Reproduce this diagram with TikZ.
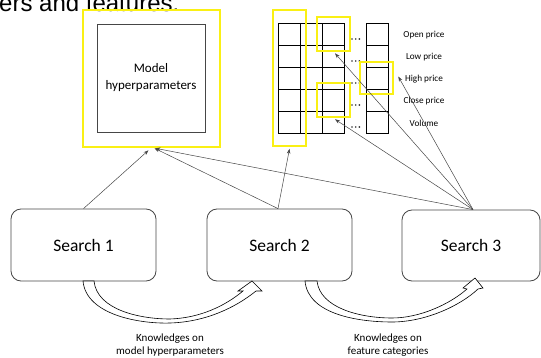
\documentclass[tikz,border=0pt]{standalone}
\usepackage{fontspec}
\setmainfont{Carlito}
\newfontfamily\slidefont{Liberation Sans}
\usetikzlibrary{arrows.meta}
\definecolor{hlyellow}{RGB}{250,240,20}
\definecolor{lineg}{RGB}{70,70,70}
\begin{document}
\begin{tikzpicture}[x=1pt,y=-1pt,
  hlbox/.style={draw=hlyellow,line width=2.6pt,inner sep=0pt},
  cellbox/.style={draw=black,line width=0.8pt},
  searchbox/.style={draw=lineg,line width=0.8pt,rounded corners=10pt,minimum width=145pt,minimum height=72pt,inner sep=0pt,font=\fontsize{17.5}{20}\selectfont},
  featlabel/.style={font=\fontsize{9.2}{11}\selectfont,inner sep=0pt},
  knowlabel/.style={font=\fontsize{11}{13}\selectfont,align=center,inner sep=0pt},
  conn/.style={draw=lineg,line width=0.5pt,-{Stealth[length=5pt,width=3.6pt]}},
  blockarrow/.style={draw=black,line width=0.6pt,fill=white,line join=miter},
  dotmark/.style={fill=black!80}
]
\useasboundingbox (0,0) rectangle (541,358);
\clip (0,0) rectangle (541,358);

% clipped slide text
\node[anchor=base west,inner sep=0pt,font=\slidefont\fontsize{24}{26}\selectfont] (slidetxt) at (-1,12) {ers and features.};

% model hyperparameters
\node[hlbox,minimum width=137pt,minimum height=137pt] (mhy) at (151.5,78.5) {};
\node[draw=lineg,line width=0.8pt,minimum width=108pt,minimum height=108pt,align=center,font=\fontsize{13}{17}\selectfont] (mh) at (151,78) {Model\\hyperparameters};

% grid of features
\foreach \c/\x in {0/278,1/300,2/322,3/366}{
  \foreach \r/\y in {0/23,1/45,2/67,3/89,4/111}{
    \draw[cellbox] (\x,\y) rectangle ++(22,22);
  }
}
\foreach \y in {39,61,83,105,127}{
  \foreach \dx in {352,355.7,359.4}{
    \fill[dotmark] (\dx,\y) circle (0.95pt);
  }
}
\node[featlabel] (l1) at (424,35) {Open price};
\node[featlabel] (l2) at (424,57) {Low price};
\node[featlabel] (l3) at (424,79) {High price};
\node[featlabel] (l4) at (424,101) {Close price};
\node[featlabel] (l5) at (424,123) {Volume};

% highlight boxes
\node[hlbox,minimum width=33pt,minimum height=136pt] (ycol) at (289.5,78) {};
\node[hlbox,minimum width=33pt,minimum height=34pt] (yb1) at (333.5,34) {};
\node[hlbox,minimum width=33pt,minimum height=34pt] (yb2) at (333.5,100) {};
\node[hlbox,minimum width=33pt,minimum height=32pt] (yb3) at (376.5,78) {};

% search boxes
\node[searchbox] (s1) at (83.5,245) {Search 1};
\node[searchbox] (s2) at (279.5,245) {Search 2};
\node[searchbox,minimum width=138pt,minimum height=71pt] (s3) at (471,245.5) {Search 3};

% connectors
\draw[conn] (s1.north) -- ([xshift=-3pt,yshift=-2pt]mhy.south);
\draw[conn] ([xshift=-1.5pt]s2.north) -- ([xshift=3pt]mhy.south);
\draw[conn] ([xshift=-1.5pt]s2.north) -- ([yshift=-1.5pt]ycol.south);
\coordinate (s3top) at ([xshift=2pt]s3.north);
\draw[conn] (s3top) -- ([xshift=4pt]mhy.south);
\draw[conn] (s3top) -- ([xshift=1.5pt,yshift=-1pt]yb1.south);
\draw[conn] (s3top) -- ([xshift=1.5pt,yshift=-1pt]yb2.south);
\draw[conn] (s3top) -- ([xshift=4pt,yshift=1.5pt]yb3.east);

% block arrows
\draw[blockarrow] (83,281) .. controls (86,315) and (140,324) .. (170,323)
  .. controls (205,322) and (235,308) .. (256,291) -- (262,291) -- (252,281)
  -- (238,291) -- (243,291) .. controls (225,306) and (200,318) .. (170,319)
  .. controls (140,319) and (97,310) .. (94,281) -- cycle;
\draw[blockarrow] (305,281) .. controls (308,315) and (360,322) .. (392,322)
  .. controls (425,322) and (460,306) .. (478,289) -- (483,288) -- (475,278)
  -- (463,288) -- (467,289) .. controls (450,304) and (420,318) .. (392,318)
  .. controls (360,318) and (320,308) .. (317,281) -- cycle;

% labels
\node[knowlabel] (k1) at (170,345.5) {Knowledges on\\model hyperparameters};
\node[knowlabel] (k2) at (388,345.5) {Knowledges on\\feature categories};
\end{tikzpicture}
\end{document}
